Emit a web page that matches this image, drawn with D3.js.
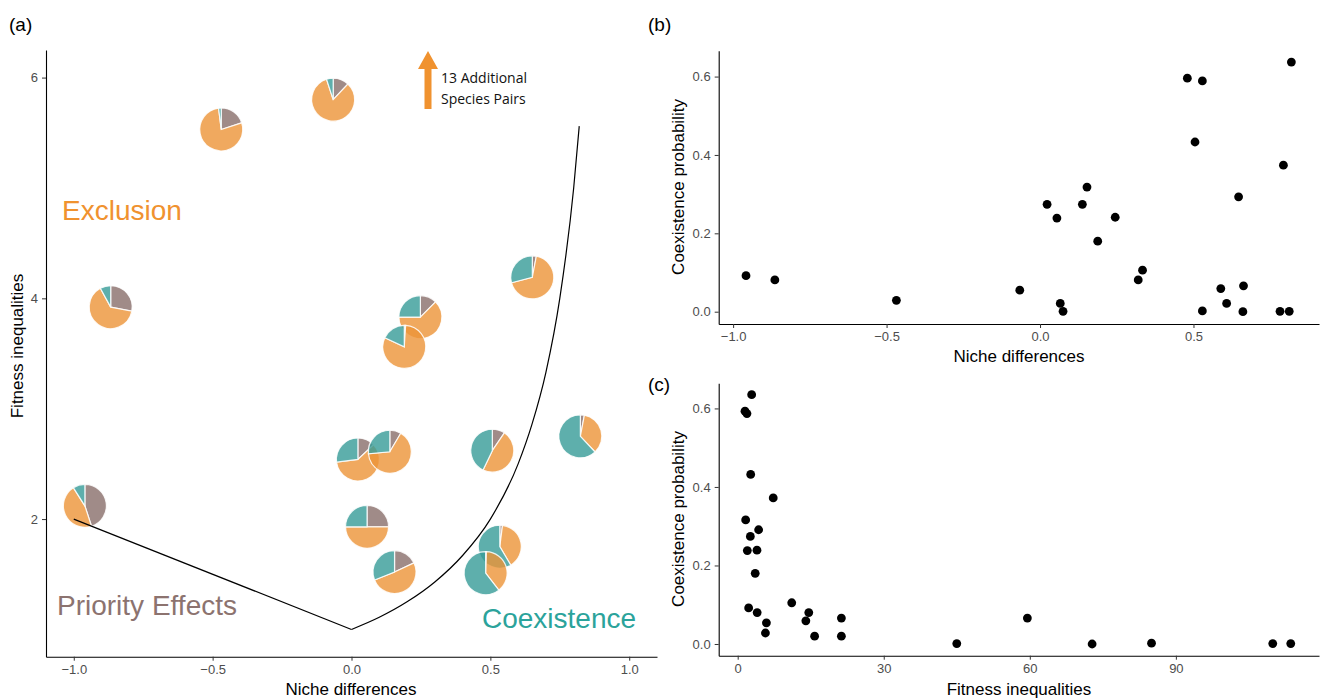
<!DOCTYPE html>
<html>
<head>
<meta charset="utf-8">
<script src="https://cdn.jsdelivr.net/npm/d3@7"></script>
<style>
  body { margin: 0; background: #fff; }
  svg text { font-family: "Liberation Sans", Arial, Helvetica, sans-serif; }
  .axis path, .axis line { stroke: #000; }
  .axis line { stroke: #333; }
  .axis text { fill: #4d4d4d; font-size: 13px; }
</style>
</head>
<body>
<div id="chart"></div>
<script>
// ---- data ----
// panel (a): pie positions (niche differences, fitness inequalities)
const pieNiche   = [-0.469, -0.066, -0.867, -0.96, 0.023, 0.138, 0.056, 0.155, 0.507, 0.824, 0.534, 0.483, 0.651, 0.248, 0.19]
const pieFitness = [5.53, 5.80, 3.92, 2.12, 2.54, 2.61, 1.93, 1.52, 2.62, 2.75, 1.75, 1.51, 4.19, 3.83, 3.56]
// outcome shares of each pie: priority effects, exclusion, coexistence
const piePriority    = [0.20, 0.12, 0.28, 0.45, 0.13, 0.085, 0.25, 0.18, 0.095, 0.03, 0.02, 0.005, 0.03, 0.125, 0.01]
const pieExclusion   = [0.78, 0.83, 0.64, 0.46, 0.60, 0.65, 0.50, 0.51, 0.477, 0.35, 0.395, 0.39, 0.68, 0.625, 0.81]
const pieCoexistence = [0.02, 0.05, 0.08, 0.09, 0.27, 0.265, 0.25, 0.31, 0.43, 0.62, 0.585, 0.605, 0.29, 0.25, 0.18]

// boundary between regions
const boundaryLeft  = [[-1, 2], [0, 1]]
const boundaryRight = [[0, 1], [0.1, 1.11], [0.2, 1.25], [0.3, 1.43], [0.4, 1.67], [0.5, 2.0],
                       [0.6, 2.5], [0.65, 2.86], [0.7, 3.33], [0.75, 4.0], [0.8, 5.0], [0.82, 5.56]]

// panel (b): niche differences vs coexistence probability
const nicheB = [-0.958, -0.864, -0.468, -0.066, 0.023, 0.055, 0.066, 0.075, 0.138, 0.153, 0.188, 0.245, 0.320, 0.334,
                0.480, 0.529, 0.505, 0.529, 0.589, 0.608, 0.647, 0.663, 0.661, 0.793, 0.782, 0.812, 0.819]
const probB  = [0.092, 0.081, 0.029, 0.055, 0.274, 0.239, 0.021, 0.001, 0.274, 0.318, 0.180, 0.241, 0.081, 0.106,
                0.596, 0.589, 0.433, 0.002, 0.059, 0.021, 0.293, 0.066, 0.000, 0.374, 0.001, 0.001, 0.637]

// panel (c): fitness inequalities vs coexistence probability
const fitnessC = [2.87, 1.5, 1.9, 2.67, 7.3, 1.64, 2.6, 4.3, 1.98, 3.96, 3.6, 2.25, 4.0, 5.9, 5.7, 11.1, 14.6, 14.0,
                  15.8, 21.3, 21.3, 45.0, 59.5, 72.8, 85.0, 109.9, 113.6]
const probC    = [0.635, 0.593, 0.587, 0.432, 0.372, 0.316, 0.274, 0.291, 0.238, 0.239, 0.180, 0.092, 0.080, 0.054,
                  0.028, 0.105, 0.080, 0.059, 0.020, 0.066, 0.020, 0.001, 0.066, 0.000, 0.002, 0.001, 0.001]

const xTicksA = [-1.0, -0.5, 0.0, 0.5, 1.0]
const yTicksA = [2, 4, 6]
const xTicksB = [-1.0, -0.5, 0.0, 0.5]
const xTicksC = [0, 30, 60, 90]
const yTicksBC = [0.0, 0.2, 0.4, 0.6]

// colours
const colPriority = "#886e6a", colExclusion = "#ec9437", colCoexist = "#369b97"

const minus = s => s.replace("-", "\u2212")

const svg = d3.select("#chart").append("svg")
    .attr("width", 1321)
    .attr("height", 699)

// ---------- panel (a) ----------
const xA = d3.scaleLinear().domain([-1.1, 1.1]).range([46, 657])
const yA = d3.scaleLinear().domain([0.753, 6.25]).range([656.7, 50])

svg.append("g")
    .attr("class", "axis")
    .attr("transform", "translate(0,656.7)")
    .call(d3.axisBottom(xA).tickValues(xTicksA).tickFormat(d => minus(d3.format(".1f")(d)))
        .tickSize(4).tickSizeOuter(0).tickPadding(4))
    .call(g => g.select(".domain").attr("stroke-width", 1.1))

svg.append("g")
    .attr("class", "axis")
    .attr("transform", "translate(46,0)")
    .call(d3.axisLeft(yA).tickValues(yTicksA).tickFormat(d3.format("d"))
        .tickSize(4).tickSizeOuter(0).tickPadding(4))
    .call(g => g.select(".domain").attr("stroke-width", 1.1))

// pies
const pie = d3.pie().sort(null).value(d => d.v)
const arc = d3.arc().innerRadius(0).outerRadius(21.5)
const pies = pieNiche.map((x, i) => ({
    x: x, y: pieFitness[i],
    parts: [{v: piePriority[i], c: colPriority}, {v: pieExclusion[i], c: colExclusion}, {v: pieCoexistence[i], c: colCoexist}]
}))
const pieG = svg.append("g").selectAll("g")
    .data(pies)
    .join("g")
    .attr("transform", d => `translate(${xA(d.x)},${yA(d.y)})`)
pieG.selectAll("path")
    .data(d => pie(d.parts))
    .join("path")
    .attr("d", arc)
    .attr("fill", d => d.data.c)
    .attr("fill-opacity", 0.8)
    .attr("stroke", "#fff")
    .attr("stroke-opacity", 0.85)
    .attr("stroke-width", 1.2)

// boundary line (drawn over the pies)
const line = d3.line().x(d => xA(d[0])).y(d => yA(d[1]))
svg.append("path").datum(boundaryLeft)
    .attr("d", line)
    .attr("fill", "none").attr("stroke", "#000").attr("stroke-width", 1.2)
svg.append("path").datum(boundaryRight)
    .attr("d", line.curve(d3.curveMonotoneX))
    .attr("fill", "none").attr("stroke", "#000").attr("stroke-width", 1.2)

// region labels
svg.append("text").attr("x", 62).attr("y", 220).attr("fill", "#f0922f")
    .style("font-size", "28px").text("Exclusion")
svg.append("text").attr("x", 57).attr("y", 615).attr("fill", "#8c736f")
    .style("font-size", "28px").text("Priority Effects")
svg.append("text").attr("x", 482).attr("y", 628).attr("fill", "#2ba39b")
    .style("font-size", "28px").text("Coexistence")

// arrow for the off-scale pairs
svg.append("path")
    .attr("d", "M424.5,109 L424.5,69 L418,69 L428,51 L438,69 L431.5,69 L431.5,109 Z")
    .attr("fill", "#f0922f")
svg.append("text").attr("x", 441).attr("y", 83)
    .style("font-family", "'Open Sans', sans-serif").style("font-size", "14px").attr("fill", "#111")
    .text("13 Additional")
svg.append("text").attr("x", 441).attr("y", 104)
    .style("font-family", "'Open Sans', sans-serif").style("font-size", "14px").attr("fill", "#111")
    .text("Species Pairs")

// axis titles
svg.append("text").attr("text-anchor", "middle").attr("x", 351).attr("y", 695)
    .style("font-size", "17px").text("Niche differences")
svg.append("text").attr("text-anchor", "middle")
    .attr("transform", "translate(23,346) rotate(-90)")
    .style("font-size", "17px").text("Fitness inequalities")

// ---------- panel (b) ----------
const xB = d3.scaleLinear().domain([-1.047, 0.909]).range([718.7, 1319])
const yB = d3.scaleLinear().domain([-0.0314, 0.666]).range([324, 50.7])

svg.append("g")
    .attr("class", "axis")
    .attr("transform", "translate(0,324)")
    .call(d3.axisBottom(xB).tickValues(xTicksB).tickFormat(d => minus(d3.format(".1f")(d)))
        .tickSize(4).tickSizeOuter(0).tickPadding(4))
    .call(g => g.select(".domain").attr("stroke-width", 1.1))
svg.append("g")
    .attr("class", "axis")
    .attr("transform", "translate(718.7,0)")
    .call(d3.axisLeft(yB).tickValues(yTicksBC).tickFormat(d3.format(".1f")).tickSize(4).tickSizeOuter(0).tickPadding(4))
    .call(g => g.select(".domain").attr("stroke-width", 1.1))

svg.append("g").selectAll("circle")
    .data(nicheB.map((x, i) => [x, probB[i]]))
    .join("circle")
    .attr("cx", d => xB(d[0]))
    .attr("cy", d => yB(d[1]))
    .attr("r", 4.4)
    .attr("fill", "#000")

svg.append("text").attr("text-anchor", "middle").attr("x", 1019).attr("y", 362)
    .style("font-size", "17px").text("Niche differences")
svg.append("text").attr("text-anchor", "middle")
    .attr("transform", "translate(684,187) rotate(-90)")
    .style("font-size", "17px").text("Coexistence probability")

// ---------- panel (c) ----------
const xC = d3.scaleLinear().domain([-3.9, 119.4]).range([718.7, 1319])
const yC = d3.scaleLinear().domain([-0.0298, 0.664]).range([655.7, 383.3])

svg.append("g")
    .attr("class", "axis")
    .attr("transform", "translate(0,655.7)")
    .call(d3.axisBottom(xC).tickValues(xTicksC).tickSize(4).tickSizeOuter(0).tickPadding(4))
    .call(g => g.select(".domain").attr("stroke-width", 1.1))
svg.append("g")
    .attr("class", "axis")
    .attr("transform", "translate(718.7,0)")
    .call(d3.axisLeft(yC).tickValues(yTicksBC).tickFormat(d3.format(".1f")).tickSize(4).tickSizeOuter(0).tickPadding(4))
    .call(g => g.select(".domain").attr("stroke-width", 1.1))

svg.append("g").selectAll("circle")
    .data(fitnessC.map((x, i) => [x, probC[i]]))
    .join("circle")
    .attr("cx", d => xC(d[0]))
    .attr("cy", d => yC(d[1]))
    .attr("r", 4.4)
    .attr("fill", "#000")

svg.append("text").attr("text-anchor", "middle").attr("x", 1019).attr("y", 695)
    .style("font-size", "17px").text("Fitness inequalities")
svg.append("text").attr("text-anchor", "middle")
    .attr("transform", "translate(684,519) rotate(-90)")
    .style("font-size", "17px").text("Coexistence probability")

// panel letters
svg.append("text").attr("x", 9).attr("y", 31).style("font-size", "19px").text("(a)")
svg.append("text").attr("x", 648).attr("y", 31).style("font-size", "19px").text("(b)")
svg.append("text").attr("x", 648).attr("y", 391).style("font-size", "19px").text("(c)")
</script>
</body>
</html>
